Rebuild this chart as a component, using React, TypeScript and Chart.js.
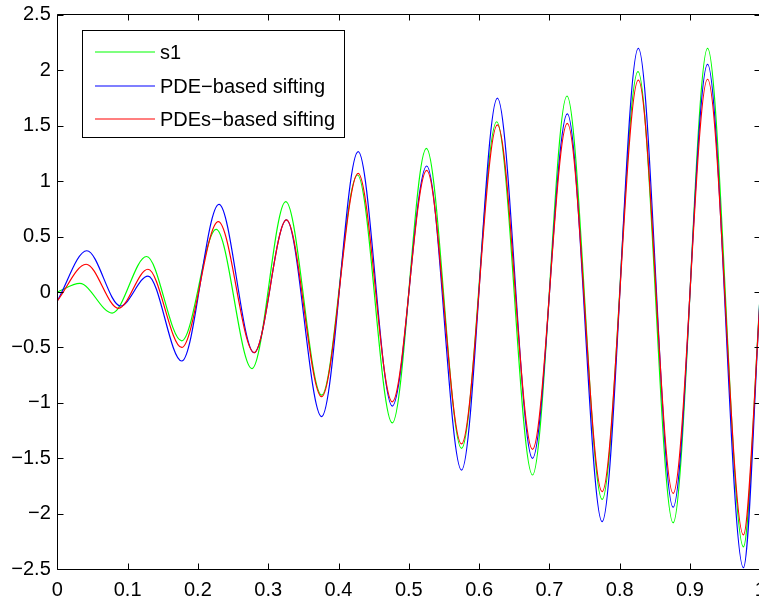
import { useEffect, useRef } from "react";
import { Chart, registerables } from "chart.js";

Chart.register(...registerables);

// Extrema (and end points)
const s1T = [0, 0.032, 0.078, 0.127, 0.177, 0.226, 0.277, 0.325, 0.376, 0.427, 0.4765, 0.525, 0.575, 0.625, 0.676, 0.725, 0.775, 0.826, 0.876, 0.925, 0.976, 1.0];
const s1V = [0.0, 0.077, -0.19, 0.32, -0.44, 0.565, -0.69, 0.815, -0.93, 1.055, -1.18, 1.295, -1.41, 1.535, -1.65, 1.767, -1.87, 1.986, -2.08, 2.197, -2.297, 0.0];

const pdeT = [0, 0.042, 0.09, 0.129, 0.177, 0.23, 0.28, 0.326, 0.376, 0.428, 0.4765, 0.5255, 0.575, 0.626, 0.676, 0.7255, 0.775, 0.8265, 0.876, 0.925, 0.976, 1.0];
const pdeV = [-0.08, 0.372, -0.126, 0.144, -0.622, 0.79, -0.547, 0.65, -1.123, 1.265, -1.028, 1.136, -1.605, 1.747, -1.5, 1.605, -2.07, 2.197, -1.94, 2.053, -2.485, 0.0];

const pdesT = [0, 0.041, 0.087, 0.129, 0.177, 0.229, 0.28, 0.326, 0.376, 0.428, 0.4765, 0.5255, 0.575, 0.626, 0.676, 0.7255, 0.775, 0.8265, 0.876, 0.925, 0.976, 1.0];
const pdesV = [-0.08, 0.25, -0.147, 0.205, -0.5, 0.634, -0.547, 0.65, -0.944, 1.07, -0.99, 1.097, -1.37, 1.506, -1.418, 1.52, -1.8, 1.91, -1.815, 1.918, -2.19, -0.05];

const seriesLabels = ["s1", "PDE\u2212based sifting", "PDEs\u2212based sifting"];
const seriesColors = ["#00ff00", "#0000ff", "#ff0000"];

const xTickValues = [0, 0.1, 0.2, 0.3, 0.4, 0.5, 0.6, 0.7, 0.8, 0.9, 1];
const yTickValues = [-2.5, -2, -1.5, -1, -0.5, 0, 0.5, 1, 1.5, 2, 2.5];

const FONT = "'Liberation Sans', Arial, Helvetica, sans-serif";

const fmt = (v: number) => {
  const s = String(Number(v.toFixed(2)));
  return s.replace("-", "\u2212");
};

const framePlugin = {
  id: "matlabFrame",
  afterDatasetsDraw(chart: any) {
    const { ctx, chartArea, scales } = chart;
    const { left, right, top, bottom } = chartArea;
    const L = Math.floor(left) + 0.5;
    const R = Math.floor(right) + 0.5;
    const T = Math.floor(top) + 0.5;
    const B = Math.floor(bottom) + 0.5;
    ctx.save();
    ctx.strokeStyle = "#000";
    ctx.lineWidth = 1;
    ctx.beginPath();
    ctx.moveTo(L, T);
    ctx.lineTo(R, T);
    ctx.lineTo(R, B);
    ctx.lineTo(L, B);
    ctx.closePath();
    ctx.stroke();
    const tl = 6;
    ctx.beginPath();
    for (const v of xTickValues) {
      const px = Math.round(scales.x.getPixelForValue(v)) + 0.5;
      ctx.moveTo(px, B);
      ctx.lineTo(px, B - tl);
      ctx.moveTo(px, T);
      ctx.lineTo(px, T + tl);
    }
    for (const v of yTickValues) {
      const py = Math.round(scales.y.getPixelForValue(v)) + 0.5;
      ctx.moveTo(L, py);
      ctx.lineTo(L + tl, py);
      ctx.moveTo(R, py);
      ctx.lineTo(R - tl, py);
    }
    ctx.stroke();

    // legend box
    const bx = 82.5, by = 30.5, bw = 262, bh = 107;
    ctx.fillStyle = "#fff";
    ctx.fillRect(bx, by, bw, bh);
    ctx.strokeRect(bx, by, bw, bh);
    ctx.font = `20px ${FONT}`;
    ctx.textBaseline = "middle";
    ctx.textAlign = "left";
    const rows = [52, 86, 119];
    seriesLabels.forEach((lab, i) => {
      ctx.strokeStyle = seriesColors[i];
      ctx.lineWidth = 1.2;
      ctx.beginPath();
      ctx.moveTo(95, rows[i]);
      ctx.lineTo(155, rows[i]);
      ctx.stroke();
      ctx.fillStyle = "#000";
      ctx.fillText(lab, 160, rows[i] + 1);
    });
    ctx.restore();
  },
};

export default function App() {
  const ref = useRef<HTMLCanvasElement | null>(null);

  useEffect(() => {
    if (!ref.current) return;
    const mk = (ts: number[], vs: number[]) => ts.map((t, i) => ({ x: t, y: vs[i] }));
    const chart = new Chart(ref.current, {
      type: "line",
      data: {
        datasets: [
          { label: seriesLabels[0], data: mk(s1T, s1V), borderColor: seriesColors[0], order: 2 },
          { label: seriesLabels[1], data: mk(pdeT, pdeV), borderColor: seriesColors[1], order: 1 },
          { label: seriesLabels[2], data: mk(pdesT, pdesV), borderColor: seriesColors[2], order: 0 },
        ].map((d) => ({
          ...d,
          borderWidth: 1.2,
          pointRadius: 0,
          fill: false,
          cubicInterpolationMode: "monotone" as const,
        })),
      },
      options: {
        animation: false,
        responsive: false,
        devicePixelRatio: 1,
        layout: { padding: { top: 14.7, right: 1.7, left: 0, bottom: 0 } },
        plugins: { legend: { display: false }, tooltip: { enabled: false } },
        scales: {
          x: {
            type: "linear",
            min: 0,
            max: 1,
            afterFit: (s: any) => {
              s.height = 29.7;
              s.paddingLeft = 0;
              s.paddingRight = 0;
            },
            afterBuildTicks: (s: any) => {
              s.ticks = xTickValues.map((v) => ({ value: v }));
            },
            grid: { display: false, drawTicks: false, tickLength: 0 },
            border: { display: false },
            ticks: {
              autoSkip: false,
              maxRotation: 0,
              padding: 9,
              color: "#000",
              font: { family: FONT, size: 20 },
              callback: (v: any) => fmt(Number(v)),
            },
          },
          y: {
            type: "linear",
            min: -2.5,
            max: 2.5,
            afterFit: (s: any) => {
              s.width = 57.3;
              s.paddingTop = 0;
              s.paddingBottom = 0;
            },
            afterBuildTicks: (s: any) => {
              s.ticks = yTickValues.map((v) => ({ value: v }));
            },
            grid: { display: false, drawTicks: false, tickLength: 0 },
            border: { display: false },
            ticks: {
              autoSkip: false,
              padding: 6.5,
              color: "#000",
              font: { family: FONT, size: 20 },
              callback: (v: any) => fmt(Number(v)),
            },
          },
        },
      },
      plugins: [framePlugin],
    });
    return () => chart.destroy();
  }, []);

  return (
    <div
      style={{
        position: "fixed",
        left: 0,
        top: 0,
        width: 759,
        height: 599,
        overflow: "hidden",
        background: "#fff",
      }}
    >
      <canvas ref={ref} width={762} height={599} style={{ display: "block" }} />
    </div>
  );
}
